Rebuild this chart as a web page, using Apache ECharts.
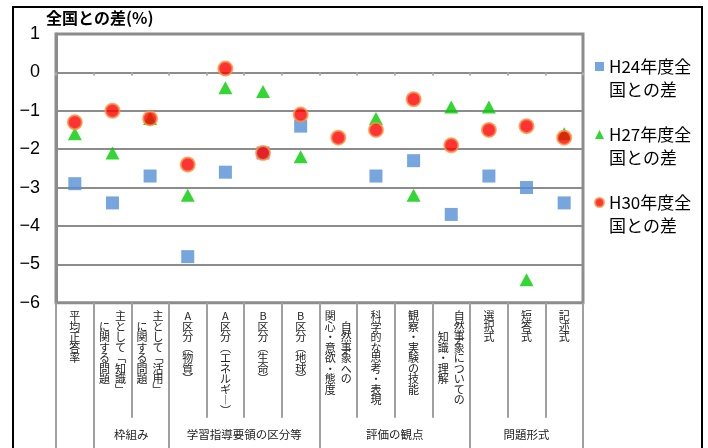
<!DOCTYPE html>
<html>
<head>
<meta charset="utf-8">
<script src="https://cdn.jsdelivr.net/npm/echarts@6/dist/echarts.min.js"></script>
<style>
  html, body { margin: 0; padding: 0; background: #fff; }
  #chart { width: 708px; height: 448px; }
</style>
</head>
<body>
<div id="chart"></div>
<script>
// Category labels, one entry per column (columns read right to left in vertical writing)
const categoryColumns = [
  ['平均正答率'],
  ['主として「知識」', 'に関する問題'],
  ['主として「活用」', 'に関する問題'],
  ['A区分（物質）'],
  ['A区分（エネルギー）'],
  ['B区分（生命）'],
  ['B区分（地球）'],
  ['自然事象への', '関心・意欲・態度'],
  ['科学的な思考・表現'],
  ['観察・実験の技能'],
  ['自然事象についての', '知識・理解'],
  ['選択式'],
  ['短答式'],
  ['記述式']
];
const categories = categoryColumns.map(c => c.join(''));

// Category groups shown in the bottom row
const groupNames = ['枠組み', '学習指導要領の区分等', '評価の観点', '問題形式'];
const groupBounds = [0, 1, 3, 7, 11, 14];
const groupCenters = [2, 5, 9, 12.5];

// Difference from the national average (points)
const seriesNames = ['H24年度全国との差', 'H27年度全国との差', 'H30年度全国との差'];
const h24 = [-2.9, -3.4, -2.7, -4.8, -2.6, -2.1, -1.4, null, -2.7, -2.3, -3.7, -2.7, -3.0, -3.4];
const h27 = [-1.6, -2.1, -1.2, -3.2, -0.4, -0.5, -2.2, null, -1.2, -3.2, -0.9, -0.9, -5.4, -1.6];
const h30 = [-1.3, -1.0, -1.2, -2.4, 0.1, -2.1, -1.1, -1.7, -1.5, -0.7, -1.9, -1.5, -1.4, -1.7];

const yMin = -6, yMax = 1;

const JP = '"Noto Sans CJK JP", "Noto Sans", sans-serif';

// Vertical presentation forms for punctuation in vertical labels
const verticalForms = { '「': '﹁', '」': '﹂', '（': '︵', '）': '︶', 'ー': '︱' };

function verticalLabel(idx) {
  const cols = categoryColumns[idx].map(s => Array.from(s).map(ch => verticalForms[ch] || ch));
  const n = Math.max(...cols.map(c => c.length));
  const padded = cols.map(c => {
    const off = Math.ceil((n - c.length) / 2);
    return Array(off).fill('\u3000').concat(c);
  });
  const lines = [];
  for (let i = 0; i < n; i++) {
    const parts = padded.slice().reverse().map(c => '{c|' + (c[i] || '\u3000') + '}');
    lines.push(parts.join(''));
  }
  return lines.join('\n');
}

const gridLine = '#8c8c8c';
const sepLine = '#a0a0a0';

const chart = echarts.init(document.getElementById('chart'), null, { renderer: 'canvas' });

chart.setOption({
  animation: false,
  textStyle: { fontFamily: JP },
  title: {
    text: '全国との差(%)',
    left: 46,
    top: 10,
    padding: 0,
    textStyle: { fontSize: 16, fontWeight: 'bold', color: '#000', fontFamily: JP }
  },
  legend: {
    orient: 'vertical',
    left: 594,
    top: 32,
    padding: 0,
    itemWidth: 9,
    itemHeight: 9,
    itemGap: -1,
    selectedMode: false,
    data: [
      { name: seriesNames[0], icon: 'rect' },
      { name: seriesNames[1], icon: 'triangle' },
      { name: seriesNames[2], icon: 'circle' }
    ],
    // an empty first line keeps the name's first line level with the icon
    formatter: name => '\n' + name.slice(0, 6) + '\n' + name.slice(6),
    textStyle: {
      fontSize: 17,
      lineHeight: 23,
      color: '#000',
      fontFamily: JP
    }
  },
  grid: {
    left: 56,
    right: 125,
    top: 34,
    bottom: 145.3,
    show: true,
    borderColor: gridLine,
    borderWidth: 3,
    backgroundColor: '#fff'
  },
  xAxis: [
    {
      // axis crossing at zero: short tick marks only
      type: 'category',
      data: categories,
      position: 'bottom',
      axisLine: { show: true, onZero: true, lineStyle: { color: gridLine, width: 2 } },
      axisTick: { show: true, interval: 0, length: 3, lineStyle: { color: '#aaaaaa', width: 2 } },
      axisLabel: { show: false },
      splitLine: { show: false }
    },
    {
      // vertical category labels with separators
      type: 'category',
      data: categories,
      position: 'bottom',
      axisLine: { show: false, onZero: false },
      axisTick: { show: true, interval: 0, length: 115, lineStyle: { color: sepLine, width: 2 } },
      axisLabel: {
        show: true,
        interval: 0,
        margin: 8,
        formatter: (v, i) => verticalLabel(i),
        rich: {
          c: { width: 16, align: 'center', fontSize: 11, lineHeight: 10.5, color: '#222', fontFamily: JP }
        }
      },
      splitLine: { show: false }
    },
    {
      // group row beneath the category labels
      type: 'value',
      min: 0,
      max: 14,
      position: 'bottom',
      axisLine: { show: false, onZero: false },
      splitLine: { show: false },
      axisTick: {
        show: true,
        customValues: groupBounds,
        length: 150,
        lineStyle: { color: sepLine, width: 2 }
      },
      axisLabel: {
        show: true,
        customValues: groupCenters,
        margin: 132,
        verticalAlign: 'middle',
        formatter: v => groupNames[groupCenters.indexOf(v)] || '',
        fontSize: 11.5,
        color: '#222',
        fontFamily: JP
      }
    }
  ],
  yAxis: {
    type: 'value',
    min: yMin,
    max: yMax,
    interval: 1,
    axisLine: { show: true, lineStyle: { color: gridLine, width: 3 } },
    axisTick: { show: false },
    splitLine: { show: true, lineStyle: { color: gridLine, width: 2 } },
    axisLabel: {
      margin: 16,
      fontSize: 18,
      color: '#000',
      fontFamily: '"Liberation Sans", Arial, sans-serif',
      formatter: v => (v < 0 ? '\u2212' + Math.abs(v) : String(v))
    }
  },
  series: [
    {
      name: seriesNames[0],
      type: 'scatter',
      xAxisIndex: 0,
      yAxisIndex: 0,
      symbol: 'rect',
      symbolSize: 13,
      itemStyle: { color: '#558ED5' },
      data: h24,
      z: 2
    },
    {
      name: seriesNames[1],
      type: 'scatter',
      xAxisIndex: 0,
      yAxisIndex: 0,
      symbol: 'triangle',
      symbolSize: [14, 13],
      itemStyle: { color: '#00CC00' },
      data: h27,
      z: 3
    },
    {
      name: seriesNames[2],
      type: 'scatter',
      xAxisIndex: 0,
      yAxisIndex: 0,
      symbol: 'circle',
      symbolSize: 14,
      itemStyle: { color: '#FF0000', borderColor: '#F79646', borderWidth: 2 },
      data: h30,
      z: 4
    }
  ],
  graphic: [
    {
      type: 'rect',
      silent: true,
      z: 100,
      shape: { x: 13, y: 7, width: 689, height: 470 },
      style: { fill: 'none', stroke: '#000', lineWidth: 2 }
    }
  ]
});
</script>
</body>
</html>
